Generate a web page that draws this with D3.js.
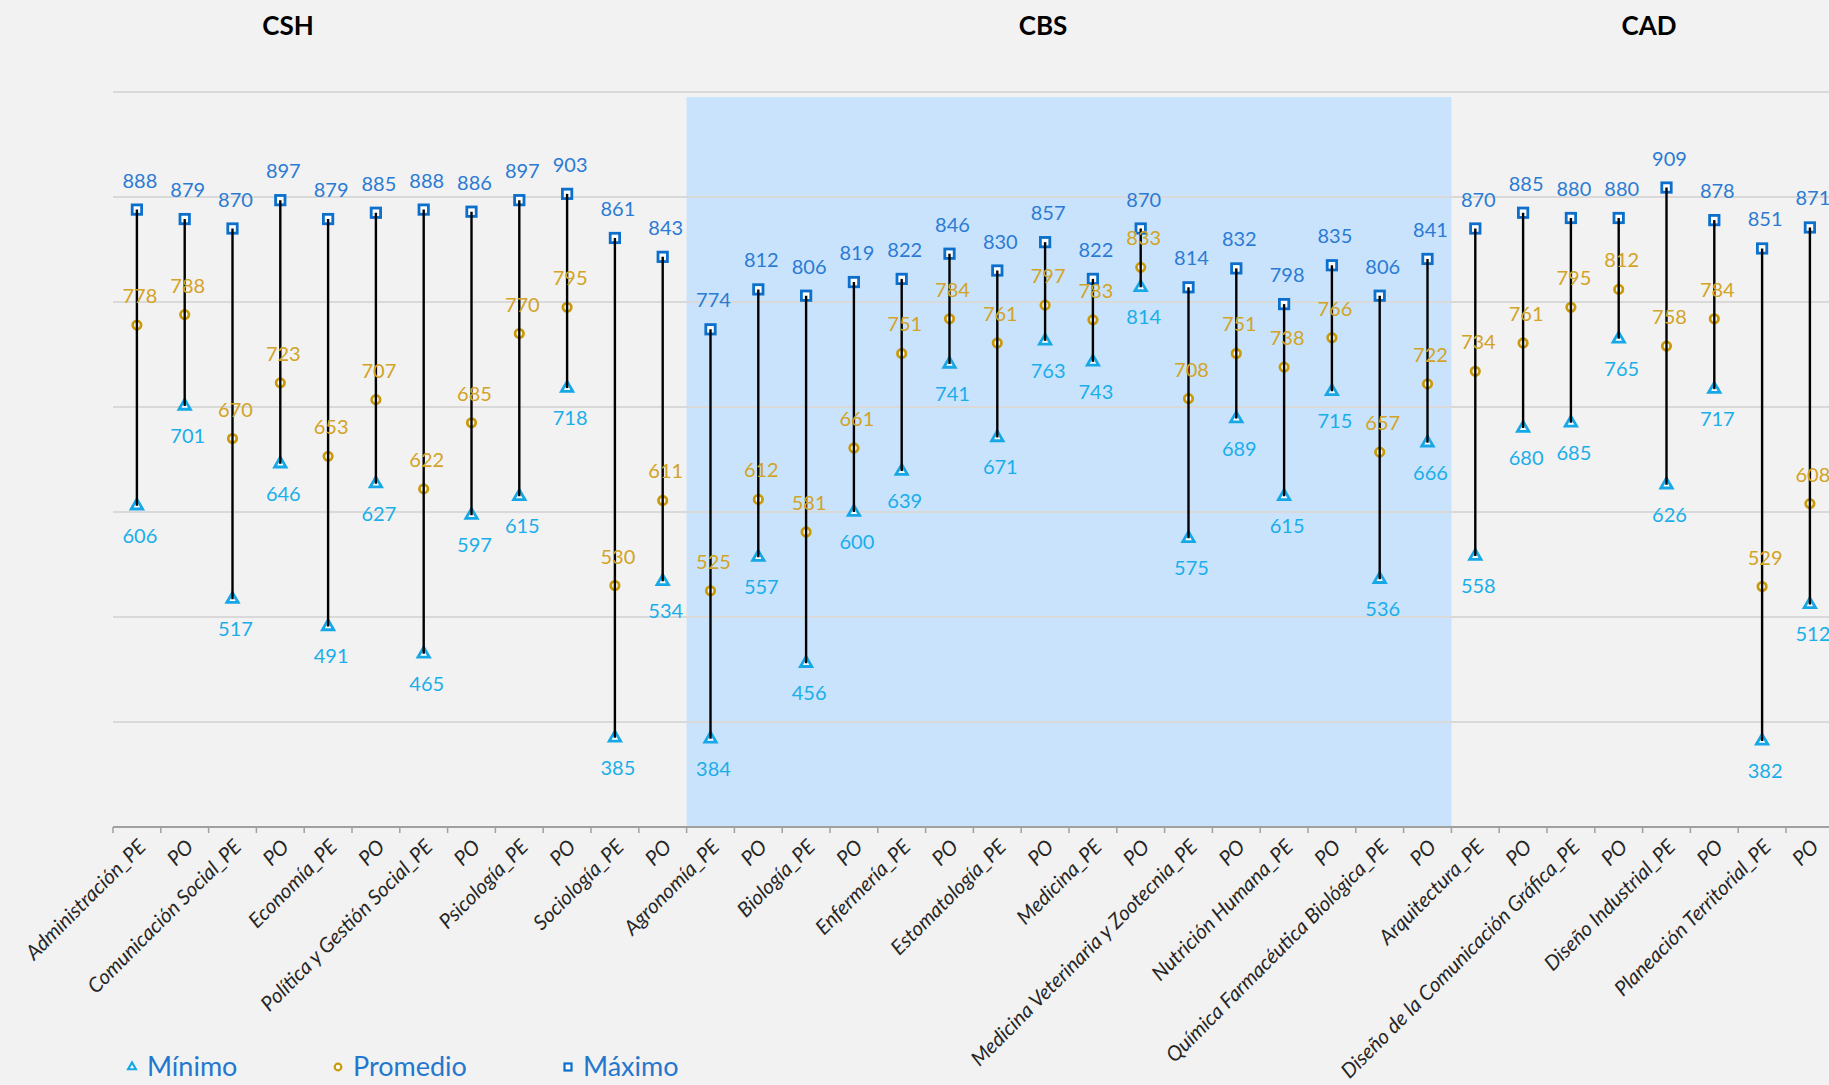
<!DOCTYPE html>
<html>
<head>
<meta charset="utf-8">
<script src="https://cdn.jsdelivr.net/npm/d3@7"></script>
<style>
  html, body { margin: 0; padding: 0; background: #F2F2F2; overflow: hidden; }
  svg { display: block; font-family: Lato, "Open Sans", "DejaVu Sans", sans-serif; }
</style>
</head>
<body>
<svg id="chart" width="1829" height="1085"></svg>
<script>
// ---------- DATA ----------
const categories = [
  "Administración_PE", "PO", "Comunicación Social_PE", "PO", "Economía_PE", "PO",
  "Política y Gestión Social_PE", "PO", "Psicología_PE", "PO", "Sociología_PE", "PO",
  "Agronomía_PE", "PO", "Biología_PE", "PO", "Enfermería_PE", "PO",
  "Estomatología_PE", "PO", "Medicina_PE", "PO", "Medicina Veterinaria y Zootecnia_PE", "PO",
  "Nutrición Humana_PE", "PO", "Química Farmacéutica Biológica_PE", "PO",
  "Arquitectura_PE", "PO", "Diseño de la Comunicación Gráfica_PE", "PO",
  "Diseño Industrial_PE", "PO", "Planeación Territorial_PE", "PO"
];
const maximo = [888, 879, 870, 897, 879, 885, 888, 886, 897, 903, 861, 843,
                774, 812, 806, 819, 822, 846, 830, 857, 822, 870, 814, 832, 798, 835, 806, 841,
                870, 885, 880, 880, 909, 878, 851, 871];
const promedio = [778, 788, 670, 723, 653, 707, 622, 685, 770, 795, 530, 611,
                  525, 612, 581, 661, 751, 784, 761, 797, 783, 833, 708, 751, 738, 766, 657, 722,
                  734, 761, 795, 812, 758, 784, 529, 608];
const minimo = [606, 701, 517, 646, 491, 627, 465, 597, 615, 718, 385, 534,
                384, 557, 456, 600, 639, 741, 671, 763, 743, 814, 575, 689, 615, 715, 536, 666,
                558, 680, 685, 765, 626, 717, 382, 512];
const groupNames = ["CSH", "CBS", "CAD"];
const groupStart = [0, 12, 28];   // first category index of each group
const groupEnd = [12, 28, 36];
const yTicks = [400, 500, 600, 700, 800, 900, 1000];
const legendLabels = ["Mínimo", "Promedio", "Máximo"];

// ---------- LAYOUT ----------
const W = 1829, H = 1085;
const plotLeft = 113, bandW = 47.8;
const plotTop = 92, plotBottom = 827;
const colMax = "#0B6FCB", colMaxTxt = "#2B7BD4";
const colAvg = "#C99A0A", colAvgTxt = "#D2A326";
const colMin = "#16A8E6", colMinTxt = "#1AAEEA";

const svg = d3.select("#chart");
svg.append("rect").attr("width", W).attr("height", H).attr("fill", "#F2F2F2");

const idx = d3.range(categories.length);
const x = d3.scaleBand().domain(idx).range([plotLeft, plotLeft + bandW * categories.length]).padding(0);
const y = d3.scaleLinear().domain([300, 1000]).range([plotBottom, plotTop]);
const cx = i => x(i) + x.bandwidth() / 2;

// shaded CBS region
svg.append("rect")
  .attr("x", x(groupStart[1]))
  .attr("y", y(1000) + 5)
  .attr("width", x(groupEnd[1] - 1) + x.bandwidth() - x(groupStart[1]))
  .attr("height", y(300) - y(1000) - 6)
  .attr("fill", "#C9E3FC");

// gridlines
svg.append("g").selectAll("line").data(yTicks).join("line")
  .attr("x1", plotLeft).attr("x2", W)
  .attr("y1", d => y(d)).attr("y2", d => y(d))
  .attr("stroke", "#D9D9D9").attr("stroke-width", 2);

// x axis
const xAxis = d3.axisBottom(x).tickSize(0).tickFormat("");
const ax = svg.append("g").attr("transform", `translate(0,${plotBottom})`).call(xAxis);
ax.select(".domain").attr("stroke", "#A0A0A0").attr("stroke-width", 2).attr("d", `M${plotLeft},0H${W + 10}`);
// tick marks between categories
svg.append("g").selectAll("line").data(d3.range(categories.length + 1)).join("line")
  .attr("x1", d => plotLeft + d * x.bandwidth()).attr("x2", d => plotLeft + d * x.bandwidth())
  .attr("y1", plotBottom).attr("y2", plotBottom + 6)
  .attr("stroke", "#A0A0A0").attr("stroke-width", 1.5);

// category labels
svg.append("g").selectAll("text").data(idx).join("text")
  .attr("transform", i => `translate(${cx(i) + 5},${plotBottom + 16}) rotate(-45)`)
  .attr("text-anchor", "end")
  .attr("dy", "0.35em")
  .attr("font-size", 20.5)
  .attr("font-style", "italic")
  .attr("fill", "#262626")
  .text(i => categories[i]);

// markers
const gMarks = svg.append("g");
gMarks.selectAll("path.min").data(idx).join("path").attr("class", "min")
  .attr("d", d3.symbol().type(d3.symbolTriangle).size(56))
  .attr("transform", i => `translate(${cx(i)},${y(minimo[i])})`)
  .attr("fill", "#FFFFFF").attr("stroke", colMin).attr("stroke-width", 2.8);
gMarks.selectAll("circle.avg").data(idx).join("circle").attr("class", "avg")
  .attr("cx", cx).attr("cy", i => y(promedio[i])).attr("r", 4.2)
  .attr("fill", "#FFFFFF").attr("stroke", colAvg).attr("stroke-width", 2.8);
gMarks.selectAll("rect.max").data(idx).join("rect").attr("class", "max")
  .attr("x", i => cx(i) - 4.7).attr("y", i => y(maximo[i]) - 4.7)
  .attr("width", 9.4).attr("height", 9.4)
  .attr("fill", "#FFFFFF").attr("stroke", colMax).attr("stroke-width", 2.8);

// high-low lines
svg.append("g").selectAll("line").data(idx).join("line")
  .attr("x1", cx).attr("x2", cx)
  .attr("y1", i => y(maximo[i])).attr("y2", i => y(minimo[i]))
  .attr("stroke", "#000").attr("stroke-width", 2.4);

// data labels
const gLab = svg.append("g").attr("font-size", 20).attr("text-anchor", "middle");
gLab.selectAll("text.maxl").data(idx).join("text").attr("class", "maxl")
  .attr("x", i => cx(i) + 3).attr("y", i => y(maximo[i]) - 22)
  .attr("fill", colMaxTxt).text(i => maximo[i]);
gLab.selectAll("text.avgl").data(idx).join("text").attr("class", "avgl")
  .attr("x", i => cx(i) + 3).attr("y", i => y(promedio[i]) - 22)
  .attr("fill", colAvgTxt).text(i => promedio[i]);
gLab.selectAll("text.minl").data(idx).join("text").attr("class", "minl")
  .attr("x", i => cx(i) + 3).attr("y", i => y(minimo[i]) + 37)
  .attr("fill", colMinTxt).text(i => minimo[i]);

// group titles
const titleX = [288, 1043, 1649];
svg.append("g").selectAll("text").data(groupNames).join("text")
  .attr("x", (d, i) => titleX[i]).attr("y", 35)
  .attr("text-anchor", "middle").attr("font-size", 26).attr("font-weight", "bold")
  .attr("fill", "#000").text(d => d);

// legend
const legX = [132, 338, 568];
const legY = 1067;
const lg = svg.append("g");
lg.append("path").attr("d", d3.symbol().type(d3.symbolTriangle).size(26))
  .attr("transform", `translate(${legX[0]},${legY})`)
  .attr("fill", "#fff").attr("stroke", colMin).attr("stroke-width", 2.2);
lg.append("circle").attr("cx", legX[1]).attr("cy", legY).attr("r", 3.3)
  .attr("fill", "#fff").attr("stroke", colAvg).attr("stroke-width", 2.2);
lg.append("rect").attr("x", legX[2] - 3.5).attr("y", legY - 3.5).attr("width", 7).attr("height", 7)
  .attr("fill", "#fff").attr("stroke", colMax).attr("stroke-width", 2.2);
lg.selectAll("text").data(legendLabels).join("text")
  .attr("x", (d, i) => legX[i] + 15).attr("y", legY + 9)
  .attr("font-size", 27).attr("fill", "#2477CE").text(d => d);
</script>
</body>
</html>
